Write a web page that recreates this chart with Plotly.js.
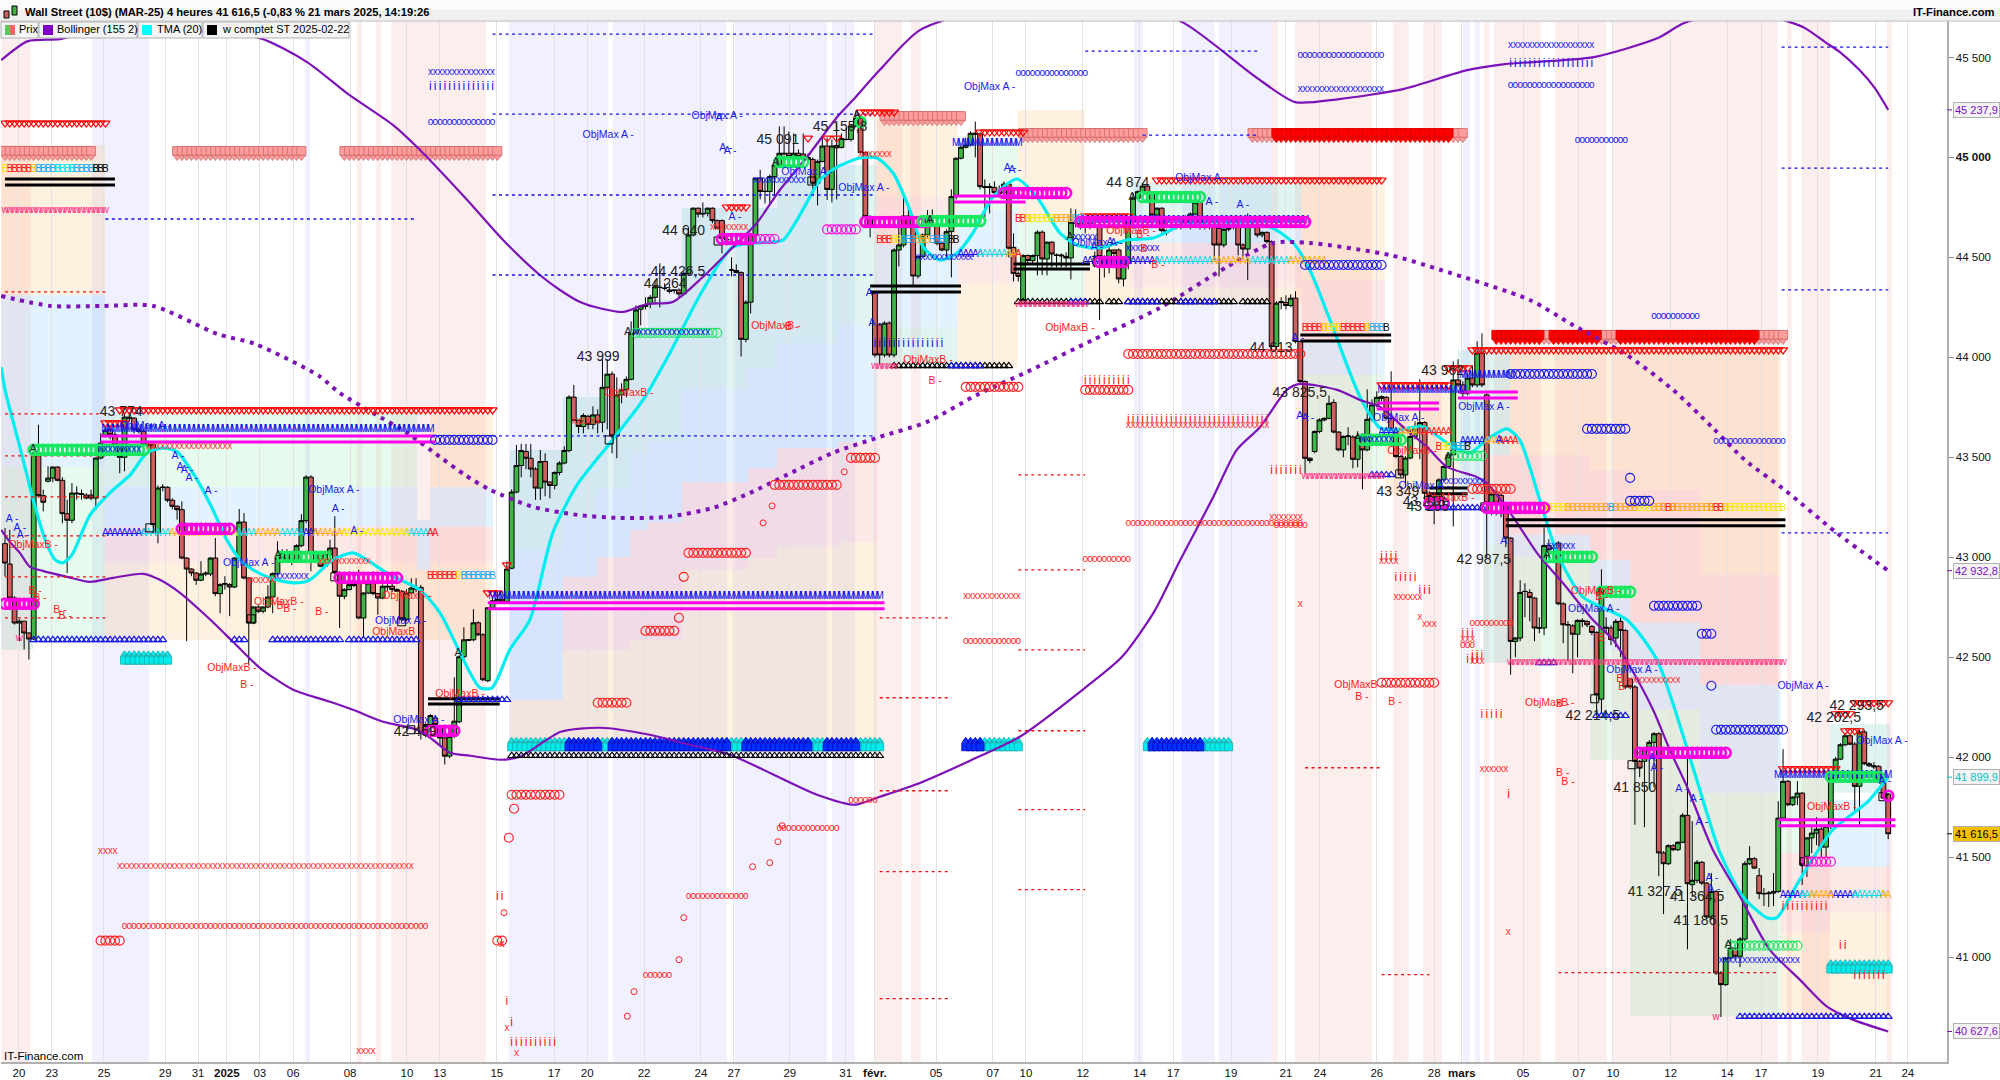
<!DOCTYPE html>
<html><head><meta charset="utf-8">
<script src="https://cdn.plot.ly/plotly-3.0.1.min.js"></script>
<style>html,body{margin:0;padding:0;background:#fff}#g{width:2000px;height:1080px}</style>
</head><body><div id="g"></div>
<script>
// ===== candles, 10 bars per line =====
const opens=[
43068,42966,42796,42671,42680,42621,42591,43521,43308,43380,
43396,43451,43385,43218,43185,43321,43318,43311,43311,43296,
43496,43610,43638,43613,43563,43500,43701,43696,43638,43630,
43563,43563,43120,43350,43350,43285,43255,43238,42996,42941,
42921,42885,42916,42916,42996,42818,42865,42863,42851,42996,
43176,42896,42671,42751,42730,42751,42801,42918,42996,43021,
42988,42980,43058,43183,43401,43021,42980,42955,43013,43046,
42924,42805,42838,42863,42871,42696,42821,42871,42818,42796,
42855,42855,42838,42830,42688,42821,42846,42849,42121,42163,
42196,42155,42096,42005,42104,42177,42502,42587,42587,42672,
42612,42382,42747,42782,42790,42779,42945,43326,43459,43529,
43495,43441,43346,43479,43376,43359,43424,43471,43534,43801,
43684,43654,43705,43665,43712,43675,43850,43916,43607,43812,
43837,43890,44121,44240,44255,44268,44300,44350,44345,44337,
44337,44337,44317,44420,44612,44746,44720,44721,44746,44684,
44684,44587,44437,44434,44424,44090,44276,44612,44896,44830,
44830,44904,44962,45021,45021,45005,45021,45017,45000,44990,
44871,44980,45057,44840,45060,45050,45090,45090,45157,45195,
45024,44705,44321,44162,44012,44171,44012,44537,44562,44707,
44662,44407,44504,44612,44704,44662,44571,44537,44629,44804,
44996,45051,45062,45121,45117,44854,44854,44850,44824,44824,
44867,44550,44420,44287,44509,44484,44509,44626,44492,44576,
44512,44512,44505,44497,44670,44670,44660,44670,44505,44662,
44504,44454,44537,44537,44392,44470,44679,44796,44829,44857,
44824,44712,44746,44634,44652,44660,44660,44662,44704,44717,
44774,44657,44654,44651,44645,44562,44645,44654,44654,44562,
44542,44662,44654,44612,44625,44579,44054,44274,44274,44259,
44296,44079,43879,43495,43529,43629,43687,43695,43774,43626,
43537,43604,43601,43490,43604,43537,43690,43762,43795,43800,
43695,43637,43504,43412,43496,43604,43646,43674,43320,43304,
43304,43387,43454,43512,43887,43862,43820,43896,43862,44021,
43812,43271,43316,43310,43267,43096,42579,42596,42829,42824,
42796,42646,42646,43059,43045,43071,42767,42662,42657,42615,
42684,42679,42654,42624,42290,42650,42646,42596,42679,42634,
42390,42351,41979,41979,42034,42074,42117,41521,41467,41557,
41537,41574,41709,41362,41384,41474,41370,41200,41328,40920,
40862,40995,41045,41004,41090,41467,41492,41407,41317,41317,
41320,41328,41695,41879,41762,41800,41820,41504,41596,41620,
41640,41550,41654,41895,41990,42062,42107,42065,41854,42126,
41967,41957,41954,41887,41815];
const highs=[
43146,43138,42805,42690,42680,42625,43563,43663,43338,43455,
43455,43455,43400,43288,43371,43355,43338,43320,43338,43500,
43620,43650,43660,43630,43570,43720,43725,43700,43650,43640,
43575,43570,43360,43366,43355,43295,43260,43280,43000,42945,
42925,42980,42930,43000,43096,42870,42905,42870,43000,43241,
43221,42900,42755,42760,42755,42860,42925,43080,43040,43040,
43010,43065,43215,43410,43410,43025,42985,43030,43088,43205,
42930,42845,42930,42875,42938,42825,42925,42930,42822,42865,
42875,42870,42845,42835,42840,42895,42895,42862,42170,42215,
42200,42160,42100,42115,42400,42510,42650,42590,42740,42680,
42620,42750,42800,42830,42830,42979,43340,43562,43567,43567,
43567,43450,43537,43520,43380,43430,43480,43555,43810,43862,
43690,43720,43712,43755,43740,43990,43990,43930,43900,43870,
43905,44180,44260,44262,44300,44312,44385,44470,44370,44370,
44340,44345,44430,44650,44750,44750,44775,44750,44750,44690,
44690,44600,44500,44465,44430,44285,44620,44900,44938,44890,
44915,44970,45155,45155,45130,45120,45040,45120,45020,45000,
44990,45100,45100,45090,45170,45120,45150,45165,45230,45210,
45030,44710,44330,44170,44180,44180,44545,44690,44820,44760,
44670,44510,44620,44737,44740,44700,44580,44640,44840,45000,
45060,45100,45130,45179,45125,44890,44870,44880,44860,44880,
44870,44620,44430,44515,44515,44515,44635,44635,44580,44580,
44520,44520,44525,44745,44740,44680,44680,44690,44530,44670,
44510,44560,44540,44545,44475,44685,44820,44835,44870,44860,
44830,44750,44750,44640,44660,44670,44670,44710,44725,44790,
44780,44665,44660,44688,44660,44660,44660,44665,44660,44570,
44720,44700,44660,44630,44630,44585,44280,44300,44310,44315,
44330,44085,43885,43500,43635,43695,43700,43810,43790,43630,
43610,43650,43610,43630,43620,43840,43790,43830,43810,43805,
43930,43640,43510,43505,43640,43680,43890,43680,43330,43320,
43395,43465,43520,43980,43990,43880,43920,43960,44080,44120,
43820,43325,43330,43320,43275,43100,42600,42885,42870,42840,
42800,42700,43150,43090,43065,43080,42775,42680,42665,42690,
42695,42685,42660,42630,42940,42700,42660,42690,42700,42640,
42395,42360,41985,42045,42085,42125,42125,41530,41565,41565,
41580,41720,42020,41680,41485,41480,41375,41420,41335,40930,
41000,41090,41060,41100,41480,41555,41500,41445,41345,41330,
41420,41780,42040,41885,41805,41880,41825,41600,41660,41700,
41650,41660,41905,42000,42070,42120,42115,42075,42135,42135,
41975,41975,41960,41895,41822];
const lows=[
42905,42788,42663,42580,42538,42488,42585,43300,43230,43375,
43375,43380,43170,42921,43170,43288,43288,43290,43285,43238,
43490,43600,43590,43520,43420,43430,43680,43620,43620,43555,
43550,43120,43070,43330,43275,43240,43188,42990,42580,42905,
42862,42880,42905,42905,42805,42720,42838,42705,42845,42990,
42890,42463,42665,42720,42720,42745,42720,42905,42985,42975,
42960,42975,43050,43170,42930,42975,42950,42945,43010,42915,
42646,42790,42835,42850,42690,42596,42815,42810,42713,42790,
42830,42825,42825,42680,42680,42815,42825,42088,42100,42155,
42150,42060,41963,41995,42095,42170,42495,42580,42580,42605,
42380,42375,42740,42775,42770,42775,42940,43320,43400,43440,
43400,43287,43287,43305,43295,43340,43410,43465,43525,43680,
43620,43620,43640,43640,43620,43625,43640,43520,43495,43770,
43800,43885,44115,44160,44240,44245,44265,44250,44335,44320,
44320,44300,44310,44415,44605,44700,44700,44705,44670,44640,
44520,44560,44405,44420,44004,44075,44220,44600,44790,44770,
44770,44800,44955,45010,44990,44995,44995,44990,44970,44812,
44760,44975,44787,44775,44790,45045,45085,45080,45150,45020,
44660,44600,44000,43962,44000,44000,44000,44455,44550,44650,
44353,44395,44500,44600,44690,44560,44530,44490,44400,44790,
44990,45045,45055,45000,44840,44700,44720,44800,44800,44810,
44500,44380,44380,44280,44470,44470,44410,44412,44410,44450,
44450,44450,44450,44390,44650,44640,44620,44640,44450,44187,
44400,44420,44470,44370,44355,44440,44670,44790,44825,44820,
44700,44690,44625,44610,44630,44640,44640,44650,44640,44710,
44640,44640,44640,44487,44404,44550,44630,44640,44510,44490,
44387,44650,44600,44600,44570,44040,44040,44240,44240,44250,
44070,43870,43420,43470,43520,43620,43680,43690,43620,43530,
43500,43560,43445,43450,43340,43530,43680,43750,43780,43690,
43630,43495,43400,43350,43490,43590,43490,43287,43240,43165,
43290,43380,43445,43154,43850,43800,43810,43850,43850,43850,
42996,43210,43210,43200,43050,42412,42500,42580,42700,42680,
42580,42620,42610,43020,43030,42760,42570,42480,42420,42500,
42650,42650,42610,42210,42220,42620,42560,42550,42500,42340,
42340,41662,41900,41650,41840,41850,41404,41215,41460,41530,
41530,41570,41038,41300,41370,41360,41190,41190,40910,40700,
40855,40980,40990,40950,41080,41460,41440,41290,41255,41250,
41255,41320,41690,41755,41755,41760,41360,41400,41520,41560,
41500,41500,41640,41880,41985,42055,42060,41720,41650,41960,
41950,41940,41880,41790,41590];
const closes=[
42971,42796,42671,42680,42621,42591,43521,43308,43275,43396,
43451,43385,43218,43185,43321,43318,43315,43296,43296,43496,
43571,43635,43613,43563,43500,43701,43696,43638,43630,43563,
43558,43163,43346,43350,43285,43255,43238,42996,42941,42921,
42885,42916,42920,42996,42818,42863,42868,42851,42996,43176,
42896,42671,42751,42730,42751,42801,42918,42996,43021,42988,
42975,43058,43183,43401,43021,42980,42955,43013,43046,42924,
42805,42838,42863,42860,42696,42821,42871,42818,42796,42855,
42852,42838,42830,42688,42821,42846,42842,42121,42163,42208,
42163,42096,42005,42104,42180,42502,42587,42585,42672,42612,
42387,42747,42782,42790,42777,42941,43326,43459,43534,43495,
43441,43346,43479,43376,43359,43424,43471,43534,43801,43684,
43654,43709,43665,43712,43675,43850,43916,43607,43812,43837,
43890,44121,44237,44257,44262,44300,44353,44350,44345,44330,
44335,44317,44420,44612,44746,44717,44718,44746,44684,44646,
44595,44590,44437,44424,44090,44276,44612,44896,44830,44830,
44904,44962,45021,45018,45005,45021,45005,45000,44990,44871,
44980,45057,44840,45057,45048,45095,45090,45157,45195,45024,
44705,44650,44012,44012,44171,44012,44537,44562,44707,44662,
44407,44504,44612,44704,44700,44571,44537,44629,44804,44996,
45051,45062,45121,45117,44854,44850,44850,44824,44820,44867,
44546,44420,44405,44509,44484,44509,44626,44492,44576,44517,
44510,44508,44497,44676,44670,44655,44660,44670,44505,44504,
44454,44537,44520,44392,44470,44679,44796,44829,44857,44824,
44712,44746,44634,44624,44654,44662,44665,44704,44717,44774,
44654,44657,44650,44562,44562,44640,44642,44650,44562,44542,
44662,44662,44612,44625,44579,44054,44271,44278,44259,44296,
44079,43879,43495,43484,43629,43687,43695,43770,43626,43537,
43604,43607,43490,43604,43537,43690,43762,43800,43803,43695,
43637,43504,43412,43496,43604,43646,43674,43320,43304,43300,
43387,43454,43512,43887,43862,43820,43896,43862,44021,43862,
43271,43316,43271,43267,43096,42579,42596,42824,42829,42799,
42646,42646,43059,43037,43045,42767,42662,42662,42615,42684,
42680,42662,42624,42312,42854,42646,42588,42679,42634,42351,
42351,41979,41945,42034,42074,42117,41521,41467,41557,41537,
41574,41709,41367,41384,41474,41370,41200,41328,40920,40862,
40995,41045,41004,41090,41467,41492,41445,41317,41317,41320,
41328,41695,41879,41762,41800,41820,41462,41596,41620,41640,
41550,41654,41895,41990,42062,42107,42065,41854,42126,41967,
41957,41952,41887,41795,41616.5];

// ===== curves: bar number, price =====
const tmaX=[-0.8,0,3.1,5.9,8.4,10.5,12.1,14,17.8,22.6,26.2,29.7,33.1,36,40.2,43.5,46.4,49.8,54.8,60.3,63.8,68.6,72.8,75.7,80.5,86.8,91,95.2,97.3,99.4,101.9,105.6,109.8,114.6,119.7,126.6,133.5,139.1,146,152.3,160,162.8,166.9,170.5,174.1,178.9,182.4,185.8,189.3,192.1,195.6,199.2,202.5,206.7,211.7,215.9,220.7,224.3,229.1,234.7,240.2,246.4,252.7,264.6,269.5,273,277.2,283.5,287.7,291.2,296.7,302.3,306.5,310,314.2,316.9,321.1,324.7,330.1,339.3,345.6,353.1,358.8,363.6,368.6,370.7,375.5,382.4,389.5,394];
const tmaY=[43950,43837,43552,43287,43087,42987,42972,43012,43212,43337,43412,43522,43547,43527,43387,43237,43087,42972,42902,42872,42887,42987,43022,42987,42912,42837,42722,42522,42422,42347,42347,42537,42687,43122,43362,43572,43787,44022,44337,44552,44577,44587,44737,44887,44952,44997,44997,44922,44737,44552,44487,44522,44622,44802,44892,44802,44622,44562,44547,44587,44597,44662,44662,44652,44572,44437,44187,43802,43647,43637,43652,43562,43522,43587,43642,43587,43287,43022,42802,42687,42487,41952,41522,41302,41197,41197,41387,41637,41772,41900];
const upperX=[-0.8,4.8,11.5,20,36.6,53.3,63.2,71.5,81.2,86.2,96.7,104.2,111.9,116.1,120.3,125.1,129.3,134.3,139.7,146,151.7,157.3,162.1,167.8,174.1,177.4,183,191.4,208,229,246.7,261.7,269.9,279.1,292.5,305.9,313.8,332.4,345.8,351.3,363,373.4,376.6,380.8,383.9,388,391.2,394];
const upperY=[45487,45582,45592,45637,45637,45597,45477,45322,45162,45052,44787,44587,44412,44337,44277,44242,44227,44267,44277,44402,44537,44672,44837,45002,45202,45287,45437,45637,45762,45837,45672,45402,45277,45292,45342,45437,45467,45502,45597,45672,45737,45677,45647,45577,45527,45437,45347,45237.9];
const lowerX=[-0.8,1,3.1,5.2,7.9,13,17.8,22.6,28.9,32.4,36.6,42.3,47.7,53.3,60.3,68,72.8,79.1,86.2,89.5,93.1,97.3,103.6,107.7,116.3,124.5,134.9,143.3,151.7,169.9,177.8,183,191,201.9,212.3,225.7,233.7,240.4,245.8,252.7,257.7,262.6,268.2,270.9,278.7,283.5,287.7,292.5,297.5,301.7,307.9,310,315.5,320.5,325.9,332.2,336.4,340,344.8,348.3,351.9,357.3,363,369.2,375.5,381.2,386.6,394];
const lowerY=[43137,43077,43022,42952,42932,42902,42877,42897,42917,42887,42822,42702,42577,42447,42337,42277,42237,42177,42137,42087,42022,42007,41987,42002,42127,42147,42112,42062,42012,41812,41762,41802,41867,41982,42102,42342,42502,42727,42982,43297,43537,43652,43837,43867,43837,43787,43752,43652,43552,43452,43402,43372,43202,43022,42872,42687,42587,42452,42237,42037,41852,41537,41302,41037,40887,40752,40687,40627.6];
const midX=[-0.8,9.6,20.3,31,44.4,52.3,65.7,70,77,84.1,91,96.2,101.5,110.5,119.7,128,138.5,148.1,155.9,163.6,173.2,183,192.9,203.3,213.8,227.6,241.6,255.6,265.3,273,289.7,300.4,319,328,339.3,349,357.3,364,372.6,383.2,394];
const midY=[44307,44257,44257,44257,44117,44067,43907,43822,43722,43622,43502,43412,43337,43252,43212,43197,43202,43247,43322,43412,43522,43602,43677,43812,43927,44087,44247,44452,44572,44572,44512,44437,44287,44162,44012,43837,43647,43487,43332,43122,42932.8];

// ===== axis labels =====
const xTickVals=[2.9,9.8,20.7,33.5,40.4,46.4,53.3,60.3,72.2,84.1,91,102.9,114.9,121.8,133.7,145.6,152.5,164.2,175.9,182,194.8,206.7,213.6,225.5,237.4,244.4,256.5,268,275.1,287,299,304.8,317.6,329.3,336.4,348.5,360.3,367.4,379.3,391.4,398.1];
const xTickText=['20','23','25','29','31','<b>2025</b>','03','06','08','10','13','15','17','20','22','24','27','29','31','<b>févr.</b>','05','07','10','12','14','17','19','21','24','26','28','<b>mars</b>','05','07','10','12','14','17','19','21','24'];
const yTickVals=[45500,45000,44500,44000,43500,43000,42500,42000,41500,41000];
const yTickText=['45 500','<b>45 000</b>','44 500','44 000','43 500','43 000','42 500','42 000','41 500','41 000'];

// ===== background periods: first bar, last bar =====
const pinkPeriods=[[-0.8,5.4],[73.6,74.7],[77.6,78.7],[80.8,100.6],[181.8,187.7],[189.5,191.6],[265,266.3],[269.9,286],[290.4,293.7],[296.7,300.6],[309.4,310.5],[311.5,321.3],[324.3,335.1],[336.2,370.9],[372.8,373.8],[375.9,381.8],[393.7,394.8]];
const lavenderPeriods=[[18.2,30.1],[62.8,63.8],[105.4,126.2],[127.2,151],[152.7,172],[173,177.8],[236.2,238.1],[246.2,253.1],[254,265],[305,306.5],[307.5,308.6]];

// ===== coloured target zones: first bar, last bar, top price, bottom price =====
const zonesOrange=[[-0.8,20.9,45062,44312],[20.9,86.2,42972,42587],[86.2,88.9,42937,42587],[88.9,102.1,43712,43352],[88.9,102.1,42972,42587],[105.6,116.7,42287,42057],[116.7,123.8,42537,42057],[123.8,130.8,42537,42057],[130.8,134.5,42587,42057],[134.5,141.6,42587,42057],[141.6,155.4,42937,42057],[155.4,161.5,42997,42057],[161.5,174.3,43052,42057],[174.3,182.4,43077,42057],[182.4,199.2,45187,44802],[199.2,211.9,44372,43952],[211.9,225.9,45237,44687],[225.9,235.4,44702,44272],[235.4,271.3,44352,44272],[271.3,288.7,44897,44387],[288.7,304,43862,43312],[314.9,331.6,44037,43512],[331.6,340,44037,43437],[340,354.6,44037,43337],[354.6,371.5,44037,42912],[371.5,381.8,41122,40702],[381.8,394.3,41222,40702]];
const zonesPink=[[20.9,86.2,43152,42972],[88.9,102.1,43152,42972],[116.7,123.8,42902,42537],[123.8,130.8,43002,42537],[130.8,134.5,43137,42587],[134.5,141.6,43177,42587],[141.6,155.4,43377,42937],[155.4,161.5,43447,42997],[161.5,174.3,43547,43052],[174.3,182.4,43577,43077],[182.4,199.2,44802,44562],[199.2,211.9,44537,44372],[235.4,271.3,44572,44352],[271.3,288.7,44387,44077],[309.2,314.9,43512,43287],[314.9,331.6,43512,43112],[331.6,340,43437,42987],[340,354.6,43337,42672],[354.6,371.5,42912,42362],[371.5,381.8,41522,41122],[381.8,394.3,41452,41222]];
const zonesBlue=[[-0.8,20.9,44312,43452],[20.9,86.2,43352,43152],[86.2,88.9,43187,42937],[88.9,102.1,43352,43152],[105.6,116.7,43037,42287],[116.7,123.8,43202,42902],[123.8,130.8,43342,43002],[130.8,134.5,43522,43137],[134.5,141.6,43577,43177],[141.6,155.4,43842,43377],[155.4,161.5,43947,43447],[161.5,174.3,44072,43547],[174.3,182.4,44162,43577],[182.4,199.2,44562,44152],[199.2,211.9,44737,44537],[235.4,271.3,44672,44572],[271.3,288.7,44077,43912],[309.2,314.9,43287,43062],[314.9,331.6,43112,43002],[331.6,340,42987,42537],[340,354.6,42672,42237],[354.6,371.5,42362,41822],[381.8,394.3,41787,41452]];
const zonesTeal=[[-0.8,5.9,43452,42537],[105.6,116.7,43537,43037],[116.7,123.8,43802,43202],[123.8,130.8,43802,43342],[130.8,134.5,44127,43522],[134.5,141.6,44287,43577],[141.6,155.4,44747,43842],[155.4,161.5,44747,43947],[161.5,174.3,44912,44072],[174.3,182.4,44962,44162],[182.4,199.2,44152,43952],[235.4,271.3,44877,44672],[304,309.2,44037,43287],[309.2,314.9,44037,43512],[309.2,314.9,43062,42472],[381.8,394.3,42167,41822]];
const zonesGreen=[[5.9,20.9,43452,42587],[20.9,86.2,43722,43352],[199.2,211.9,45072,44737],[211.9,225.9,44687,44272],[271.3,288.7,43912,43422],[314.9,331.6,43002,42472],[331.6,340,42537,41987],[340,354.6,42237,40702],[354.6,371.5,41822,40702],[371.5,381.8,41902,41522]];

// ===== marker rows: first bar, last bar, price =====
const triDownRed=[[0,21,45172],[24,102,43737],[21,25,43672],[101,103,42822],[105,105,42962],[151,155,44752],[168,168,45097],[172,172,45097],[174,174,45097],[179,186,45227],[204,213,45127],[241,288,44887],[226,235,44707],[288,302,43862],[302,306,43947],[307,372,44037],[372,383,41942],[383,386,42217],[385,388,42132],[387,394,42272]];
const pinkBlocks=[[0,18,45032],[36,62,45032],[71,103,45032],[184,200,45207],[213,238,45122],[261,266,45122],[302,305,45122],[321,324,44112],[333,338,44112],[366,372,44112]];
const redBlocks=[[266,302,45122],[312,321,44112],[324,333,44112],[338,366,44112]];
const cyanBlocks=[[25,34,42495],[382,394,40950],[106,118,42062],[124,127,42062],[151,155,42062],[168,172,42062],[178,183,42062],[204,212,42062],[239,240,42062],[250,256,42062]];
const blueBlocks=[[118,124,42062],[127,151,42062],[155,168,42062],[172,178,42062],[201,204,42062],[240,250,42062]];
const blackTri=[[106,183,42007],[186,210,43957],[212,229,44277],[231,233,44277],[235,257,44277],[259,264,44277]];
const blueTri=[[6,30,42587],[31,33,42587],[48,50,42587],[56,70,42587],[72,74,42587],[75,78,42587],[79,83,42587],[84,86,42587],[95,105,42287],[198,204,43957],[223,226,44277],[235,241,44277],[246,249,44277],[251,253,44277],[363,394,40702],[321,324,42472],[286,290,43412],[298,309,43247],[333,339,42207]];
const pinkW=[[0,21,44737],[182,186,43952],[212,226,44262],[272,288,43402],[315,372,42472],[3,3,42592],[358,358,40697]];
const blueM=[[21,89,43637],[102,183,42802],[199,212,45072],[225,272,44687],[288,305,43832],[305,315,43907],[371,394,41907]];
const magentaBig=[[37,47,43142],[70,82,42897],[89,94,42132],[150,156,44592],[180,193,44677],[209,222,44822],[229,234,44477],[225,272,44677],[298,301,43270],[310,322,43247],[342,360,42022],[394,394,41807],[0,6,42767]];
const magentaThin=[[156,161,44592],[377,382,41477],[172,178,44640]];
const greenBig=[[6,29,43537],[58,67,43002],[162,167,44977],[179,179,45177],[192,204,44682],[238,250,44802],[284,292,43587],[323,332,43002],[334,340,42827],[382,392,41902]];
const greenThin=[[132,149,44122],[303,309,43507],[361,375,41057]];
const blueO=[[90,102,43587],[272,288,44462],[315,332,43917],[331,339,43642],[340,344,43282],[345,354,42757],[355,357,42617],[358,372,42137],[340,340,43397],[357,357,42357]];
const blueOSmall=[[89,102,45177],[315,332,45362],[329,339,45087],[345,354,44202],[358,372,43577],[271,288,45512],[212,226,45422]];
const redO=[[143,155,43022],[161,174,43362],[177,182,43497],[201,212,43852],[226,235,43837],[235,271,44017],[106,116,41812],[124,130,42272],[134,140,42632],[288,299,42372],[307,315,43342],[20,24,41082],[103,104,41082]];
const redOSmall=[[25,88,41153],[143,155,41302],[162,174,41642],[177,182,41782],[134,139,40907],[201,212,42577],[235,271,43167],[226,235,42987],[307,315,42667],[266,272,43157],[305,307,42557]];
const redX=[[24,85,41452],[20,23,41527],[30,47,43552],[51,56,42882],[66,76,42977],[119,124,43677],[148,155,44652],[179,185,45017],[265,271,43197],[291,296,42797],[271,271,42762],[340,350,42382],[235,264,43657],[74,77,40527],[201,212,42802],[309,314,41937],[297,299,42662],[296,296,42697],[305,307,42587],[307,309,42477],[288,291,42977],[104,104,41062],[105,105,40642],[107,107,40517]];
const blueX=[[20,28,43537],[57,63,42902],[132,147,44122],[157,167,44887],[191,202,44497],[235,241,44542],[224,228,44602],[284,290,43587],[301,309,43377],[323,328,43052],[359,375,40982],[89,102,45427],[315,332,45562],[271,288,45342]];
const blueI=[[89,102,45352],[315,332,45467],[182,196,44067]];
const redI=[[265,271,43432],[291,295,42897],[296,298,42832],[309,313,42212],[372,381,41252],[387,393,40907],[384,385,41057],[106,115,40572],[235,264,43685],[226,235,43880],[306,308,42487],[288,291,43000],[305,307,42615],[307,309,42505],[103,104,41302],[105,105,40777],[106,106,40672]];

// ===== letter rows, by colour: first bar, last bar, price =====
const aBlue=[[21,29,43117],[62,65,43117],[200,204,44512],[226,241,44477],[288,292,43622],[305,310,43577],[372,376,41307],[382,387,41307]];
const aCyan=[[29,34,43117],[48,52,43117],[57,62,43117],[84,89,43117],[204,210,44512],[241,253,44477],[260,265,44477],[266,269,44477],[376,378,41307],[387,393,41307]];
const aOrange=[[35,40,43117],[53,57,43117],[65,71,43117],[210,212,44512],[253,260,44477],[269,276,44477],[292,295,43622],[310,313,43577],[378,382,41307],[393,394,41307]];
const aYellow=[[40,48,43117],[71,84,43117]];
const aRed=[[89,90,43117],[212,212,44512],[296,302,43622],[313,316,43577]];
const bRed=[[1,6,44942],[89,94,42902],[183,185,44582],[212,214,44692],[272,276,44142],[279,285,44142],[300,300,43547],[347,349,43242],[357,360,43242]];
const bYellow=[[0,0,44942],[6,7,44942],[95,96,42902],[186,187,44582],[214,220,44692],[276,279,44142],[285,286,44142],[301,302,43547],[322,327,43242],[341,345,43242],[360,372,43242]];
const bBlue=[[7,11,44942],[14,19,44942],[96,102,42902],[188,190,44582],[194,197,44582],[223,225,44692],[286,288,44142],[303,305,43547],[335,337,43242]];
const bCyan=[[11,14,44942]];
const bOrange=[[191,193,44582],[220,223,44692],[327,335,43242],[337,341,43242],[345,347,43242],[349,357,43242]];
const bBlack=[[19,21,44942],[198,199,44582],[289,289,44142],[306,306,43547]];

// ===== level lines: first bar, last bar, price =====
const blackLines=[[0,23,44892],[0,23,44862],[88.5,103.5,42292],[88.5,103.5,42266],[181,200,44357],[181,200,44327],[211,227,44467],[211,227,44442],[271,290,44112],[271,290,44082],[298,306,43347],[298,306,43317],[314,372.5,43187],[314,372.5,43157]];
const magentaLines=[[20,90,43607],[20,90,43577],[101,184,42772],[101,184,42742],[198.5,213.5,44807],[198.5,213.5,44777],[287,300,43772],[287,300,43742],[304,316.5,43827],[304,316.5,43797],[371,395.5,41687],[371,395.5,41657]];
const blueDash=[[21,86,44692],[102,182,45617],[102,182,45217],[102,182,44812],[102,182,44412],[102,182,43607],[371.7,394,45552],[371.7,394,44947],[371.7,394,44337],[371.7,394,43122],[238,262,45112],[226,262,45532]];
const redDash=[[0,21,44327],[0,21,43717],[0,21,43507],[0,21,43302],[0,21,43107],[0,21,42902],[0,21,42697],[183,198,42697],[183,198,42297],[183,198,41832],[183,198,41427],[183,198,40792],[212,226,43412],[212,226,42937],[212,226,42537],[212,226,42132],[212,226,41737],[212,226,41337],[272,288,41947],[288,298,40912],[325,371,40922]];

// ===== single points: bar, price =====
const redSingleBig=[[106.5,41742],[105.4,41597],[141,42697],[142,42902]];
const redSingleSmall=[[130.2,40704],[131.6,40827],[141,40987],[142,41197],[156.4,41452],[160,41472],[161.7,41577],[162.6,41657],[158.6,43172],[160.5,43257],[175.6,43427],[104.4,41222]];
const redSingleX=[[314.5,41122],[104,41062]];
const redSingleI=[[314.6,41812]];
const whiteBoxes=[[30.3,43147],[69,42902],[51.5,42692],[83,42677],[84.9,42137],[126.4,43587],[149.2,44582],[168.8,44882],[180.1,44682],[228.5,44477],[291.8,43417],[309.6,43252],[332.6,42292],[340.4,41962],[376.4,41477],[392.9,41802]];
const blackA=[[5.9,43542],[57.1,43012],[94.8,42522],[130.3,44127],[161.3,44977],[178.2,45212],[193.5,44687],[235.8,44802],[222.8,44602],[283,43597],[301.9,43502],[322.6,43012],[333.7,42827],[360.5,41057]];

// ===== text labels: bar, price, text =====
const priceLabels=[[24.3,43722,'43 774'],[85.8,42122,'42 459'],[124.1,43997,'43 999'],[140.8,44422,'44 426,5'],[138.1,44362,'44 264'],[142,44632,'44 640'],[161.7,45087,'45 091'],[174.7,45152,'45 155,8'],[234.9,44872,'44 874'],[264.9,44042,'44 613'],[270.9,43817,'43 825,5'],[300.8,43927,'43 962'],[291.4,43322,'43 349'],[296.9,43272,'43 218'],[297.7,43247,'43 265'],[309.4,42982,'42 987,5'],[332.2,42202,'42 214,5'],[341,41842,'41 850'],[345.2,41322,'41 327,5'],[354,41297,'41 364,5'],[354.8,41177,'41 186,5'],[382.6,42192,'42 202,5'],[387.4,42252,'42 293,5']];
const objMaxA=[[126.2,45112],[149,45207],[206,45352],[167.8,44927],[179.7,44847],[29.3,43657],[68.8,43332],[51,42967],[82.8,42677],[86.6,42182],[250.2,44897],[228.5,44572],[291.6,43697],[296.9,43357],[309.4,43752],[332.4,42737],[340.4,42432],[376.2,42352],[392.7,42077]];
const objMaxB=[[5.9,43057],[47.5,42442],[57.3,42772],[84.1,42802],[82,42622],[95.2,42312],[130.5,43822],[161.3,44157],[193.1,43987],[222.8,44147],[235.6,44632],[283.3,42357],[294.4,43532],[302.3,43292],[323.2,42267],[332.8,42827],[382.2,41747]];
const aDash=[[1.5,43187],[3.1,43142],[3.8,43107],[36.2,43507],[37.2,43452],[38.1,43437],[39.1,43397],[43.1,43327],[69.7,43237],[73.6,43127],[150,45197],[150.8,45047],[151.7,45032],[152.7,44702],[181.4,44322],[182,44172],[210.3,44947],[211.3,44937],[252.5,44777],[259,44762],[228.5,44552],[231.8,44577],[271.5,43707],[272.6,43697],[270.5,44097],[314.2,43077],[313.2,43587],[345.2,41992],[345.6,41942],[350.8,41837],[353.8,41787],[355,41672],[357.1,41392],[357.5,41337],[393.3,41877]];
const bDash=[[6.3,42827],[7.3,42792],[11.5,42732],[12.6,42702],[50.6,42357],[58.2,42752],[59.6,42737],[66.3,42722],[194.6,43882],[241.2,44462],[238.1,44612],[238.9,44542],[164.6,44152],[283.9,42297],[290.8,42272],[325.9,42262],[325.9,41917],[327,41872],[334.7,42592],[334.1,42797],[338.5,42387],[338.9,42347]];

// ===== last values on the price scale =====
const lastValues=[[45237.9,'45 237,9','#8010c8','#f2f2f2'],[42932.8,'42 932,8','#8010c8','#f2f2f2'],[41899.9,'41 899,9','#00c4c4','#f2f2f2'],[41616.5,'41 616,5','#000000','#f6c000'],[40627.6,'40 627,6','#8010c8','#f2f2f2']];
const legendItems=[['Prix',1,38],['Bollinger (155 2)',39,137],['TMA (20)',138,202],['w comptet ST 2025-02-22',203,349]];

// ===== builders =====
const FONT='"Liberation Sans", Arial, sans-serif';
const barNo=opens.map((_,i)=>i);
function expand(runs){const x=[],y=[];runs.forEach(r=>{for(let i=r[0];i<=r[1];i++){x.push(i);y.push(r[2]);}});return {x,y};}
function segs(runs){const x=[],y=[];runs.forEach(r=>{x.push(r[0],r[1],null);y.push(r[2],r[2],null);});return {x,y};}
function markerRow(runs,symbol,size,color,lw,fill,dy){const e=expand(runs);
  return {type:'scatter',mode:'markers',x:e.x,y:e.y.map(v=>v+(dy||0)),hoverinfo:'skip',
    marker:{symbol,size,color:fill||color,line:{width:lw,color}}};}
function glyphRow(runs,glyph,size,color){const e=expand(runs);
  return {type:'scatter',mode:'text',x:e.x,y:e.y,text:e.x.map(()=>glyph),textposition:'middle center',hoverinfo:'skip',
    textfont:{family:FONT,size,color},cliponaxis:true};}
function lineRow(runs,color,width,dash){const s=segs(runs);
  return {type:'scatter',mode:'lines',x:s.x,y:s.y,hoverinfo:'skip',line:{color,width,dash:dash||'solid'},connectgaps:false};}
function textAt(list,text,size,color){return {type:'scatter',mode:'text',x:list.map(r=>r[0]),y:list.map(r=>r[1]),
    text:list.map(r=>text||r[2]),textposition:'middle center',hoverinfo:'skip',textfont:{family:FONT,size,color}};}
function pointsAt(list,symbol,size,color,lw){return {type:'scatter',mode:'markers',x:list.map(r=>r[0]),y:list.map(r=>r[1]),hoverinfo:'skip',
    marker:{symbol,size,color,line:{width:lw,color}}};}
function curve(x,y,color,width,dash){return {type:'scatter',mode:'lines',x,y,hoverinfo:'skip',line:{color,width,dash:dash||'solid',shape:'spline',smoothing:0.7}};}

const traces=[
 {type:'candlestick',x:barNo,open:opens,high:highs,low:lows,close:closes,width:0.88,whiskerwidth:0,hoverinfo:'skip',
  increasing:{line:{color:'#000',width:1},fillcolor:'#3fb548'},
  decreasing:{line:{color:'#000',width:1},fillcolor:'#cf5f5e'}},
 markerRow(pinkBlocks,'square',9,'#cc6a6a',0.8,'#ff9c9c',0),
 markerRow(pinkBlocks,'triangle-down',7,'#cc6a6a',0.8,'#ff9c9c',-30),
 markerRow(redBlocks,'square',9,'#d80000',0.8,'#ff0000',0),
 markerRow(redBlocks,'triangle-down',7,'#d80000',0.8,'#ff0000',-30),
 markerRow(cyanBlocks,'square',8,'#18a8a8',0.8,'#00ecec',-10),
 markerRow(cyanBlocks,'triangle-up',6,'#18a8a8',0.8,'#00ecec',22),
 markerRow(blueBlocks,'square',8,'#0000c0',0.8,'#0030ff',-10),
 markerRow(blueBlocks,'triangle-up',6,'#0000c0',0.8,'#0030ff',22),
 curve(tmaX,tmaY,'#00eef0',3.2),
 curve(upperX,upperY,'#7d12b8',2.2),
 curve(lowerX,lowerY,'#7d12b8',2.2),
 curve(midX,midY,'#7d12b8',4,'4px,5.5px'),
 lineRow(blueDash,'#1010ee',1.3,'3px,3.5px'),
 lineRow(redDash,'#ee1010',1.3,'3px,3.5px'),
 lineRow(blackLines,'#000',3),
 lineRow(magentaLines,'#ff00ee',3),
 markerRow(triDownRed,'triangle-down-open',8,'#ff0000',1.2),
 markerRow(blackTri,'triangle-up-open',7,'#000',1.2),
 markerRow(blueTri,'triangle-up-open',7,'#1a1ae6',1.2),
 glyphRow(pinkW,'w',10,'#ff2a7e'),
 glyphRow(blueM,'M',10,'#1010f0'),
 glyphRow(aBlue,'A',10,'#1414ee'),glyphRow(aCyan,'A',10,'#18d8e8'),glyphRow(aOrange,'A',10,'#ffae1c'),glyphRow(aYellow,'A',10,'#f0e800'),glyphRow(aRed,'A',10,'#ff2020'),
 glyphRow(bRed,'B',10,'#ff1010'),glyphRow(bYellow,'B',10,'#f8e800'),glyphRow(bBlue,'B',10,'#10a8ff'),glyphRow(bCyan,'B',10,'#00e8f0'),glyphRow(bOrange,'B',10,'#ffa818'),glyphRow(bBlack,'B',10,'#000'),
 pointsAt(whiteBoxes,'square-open',8,'#000',1),
 markerRow(magentaBig,'circle-open',10,'#ff00e0',2.6),
 markerRow(magentaThin,'circle-open',9,'#ff00e0',1.2),
 markerRow(greenBig,'circle-open',10,'#18e860',2.6),
 markerRow(greenThin,'circle-open',9,'#18e860',1.2),
 markerRow(blueO,'circle-open',9,'#1818ee',1.1),
 markerRow(redO,'circle-open',9,'#ff2020',1.1),
 pointsAt(redSingleBig,'circle-open',9,'#ff2020',1.1),
 pointsAt(redSingleSmall,'circle-open',6,'#ff2020',1),
 glyphRow(blueOSmall,'o',10,'#1414ee'),
 glyphRow(redOSmall,'o',10,'#ff2020'),
 glyphRow(redX,'x',10,'#ff3030'),
 glyphRow(blueX,'x',10,'#2020f0'),
 glyphRow(blueI,'i',12,'#1414ee'),
 glyphRow(redI,'i',12,'#ff1010'),
 textAt(redSingleX,'x',10,'#ff3030'),
 textAt(redSingleI,'i',12,'#ff1010'),
 textAt(blackA,'A',11,'#222'),
 textAt(objMaxA,'ObjMax A -',10.5,'#1a1aee'),
 textAt(objMaxB,'ObjMaxB -',10.5,'#ff1a1a'),
 textAt(aDash,'A -',10.5,'#1a1aee'),
 textAt(bDash,'B -',10.5,'#ff1a1a'),
 textAt(priceLabels,null,14,'#222')
];

// page furniture helpers (paper coordinates from the 2000x1080 page)
const PL=1,PR=1947,PT=21,PB=1062;
const xp=v=>(v-PL)/(PR-PL), yp=v=>1-(v-PT)/(PB-PT);
const rect=(x0,y0,x1,y1,fill,line,layer)=>({type:'rect',xref:'paper',yref:'paper',x0:xp(x0),x1:xp(x1),y0:yp(y0),y1:yp(y1),fillcolor:fill,line:{color:line||fill,width:line?1:0},layer:layer||'above'});

const shapes=[];
pinkPeriods.forEach(p=>shapes.push({type:'rect',xref:'x',yref:'paper',x0:p[0],x1:p[1],y0:0,y1:1,fillcolor:'#fdeeee',line:{width:0},layer:'below'}));
lavenderPeriods.forEach(p=>shapes.push({type:'rect',xref:'x',yref:'paper',x0:p[0],x1:p[1],y0:0,y1:1,fillcolor:'#f0f0fe',line:{width:0},layer:'below'}));
[[zonesOrange,'rgba(255,170,60,0.16)'],[zonesPink,'rgba(245,110,110,0.16)'],[zonesBlue,'rgba(90,180,255,0.17)'],[zonesTeal,'rgba(50,185,165,0.15)'],[zonesGreen,'rgba(60,215,120,0.13)']].forEach(z=>{
  z[0].forEach(r=>shapes.push({type:'rect',xref:'x',yref:'y',x0:r[0],x1:r[1],y0:r[3],y1:r[2],fillcolor:z[1],line:{width:0},layer:'below'}));
});
// header bar
shapes.push(rect(0,0,2000,10,'#fbfbfb'),rect(0,10,2000,20,'#f0f0f0'),rect(0,20.5,2000,21.5,'#b8b8b8'));
// icon
shapes.push(rect(4,11,9,18,'#cf5f5e','#000'),rect(12,6,17,15,'#3fb548','#000'));
// legend chips
legendItems.forEach(l=>shapes.push(rect(l[1],22,l[2],38,'#f4f4f4','#b0b0b0')));
shapes.push(rect(5,25,10,35,'#55cc55'),rect(10,25,15,35,'#e56a66'),rect(43,25,53,35,'#8000c8'),rect(142,25,152,35,'#00ffff'),rect(207,25,217,35,'#000'));
// price scale ticks for last values
lastValues.forEach(v=>shapes.push({type:'line',xref:'paper',yref:'y',x0:1,x1:xp(1952),y0:v[0],y1:v[0],line:{color:v[2],width:1},layer:'above'}));

const note=(x,y,text,opts)=>Object.assign({xref:'paper',yref:'paper',x:xp(x),y:yp(y),text,showarrow:false,xanchor:'left',yanchor:'middle',font:{family:FONT,size:11,color:'#000'}},opts||{});
const annotations=[
 note(23,11.5,'<b>Wall Street (10$) (MAR-25) 4 heures 41 616,5 (-0,83 % 21 mars 2025, 14:19:26</b>',{font:{family:FONT,size:11.2,color:'#000'}}),
 note(1996,11.5,'<b>IT-Finance.com</b>',{xanchor:'right',font:{family:FONT,size:11.2,color:'#000'}}),
 note(2,1056,'IT-Finance.com',{font:{family:FONT,size:11.5,color:'#000'}}),
 note(17,29.5,'Prix'),
 note(55,29.5,'Bollinger (155 2)'),
 note(154.5,29.5,'TMA (20)'),
 note(220,29.5,'w comptet ST 2025-02-22')
];
lastValues.forEach(v=>annotations.push({xref:'paper',yref:'y',x:xp(1952.5),y:v[0],text:v[1],showarrow:false,xanchor:'left',yanchor:'middle',
  font:{family:FONT,size:11,color:v[2]},bgcolor:v[3],bordercolor:'#b0b0b0',borderwidth:1,borderpad:1}));

const layout={
 width:2000,height:1080,autosize:false,showlegend:false,paper_bgcolor:'#fff',plot_bgcolor:'#fff',
 margin:{l:PL,r:2000-PR,t:PT,b:1080-PB,pad:0},
 dragmode:false,hovermode:false,boxgap:0,boxgroupgap:0,
 xaxis:{type:'linear',range:[-0.84,406.3],rangeslider:{visible:false},fixedrange:true,tickmode:'array',tickvals:xTickVals,ticktext:xTickText,
   showgrid:true,gridcolor:'#e2e2e2',gridwidth:1,zeroline:false,ticks:'',showline:true,linecolor:'#b0b0b0',linewidth:1.5,
   tickfont:{family:FONT,size:11.5,color:'#111'},automargin:false},
 yaxis:{type:'linear',side:'right',range:[40475,45682.5],fixedrange:true,tickmode:'array',tickvals:yTickVals,ticktext:yTickText,
   showgrid:false,zeroline:false,ticks:'outside',ticklen:5,tickcolor:'#888',showline:true,linecolor:'#b0b0b0',linewidth:1.5,
   tickfont:{family:FONT,size:11.5,color:'#111'},automargin:false},
 shapes,annotations
};
Plotly.newPlot('g',traces,layout,{displayModeBar:false,staticPlot:true});
</script></body></html>
